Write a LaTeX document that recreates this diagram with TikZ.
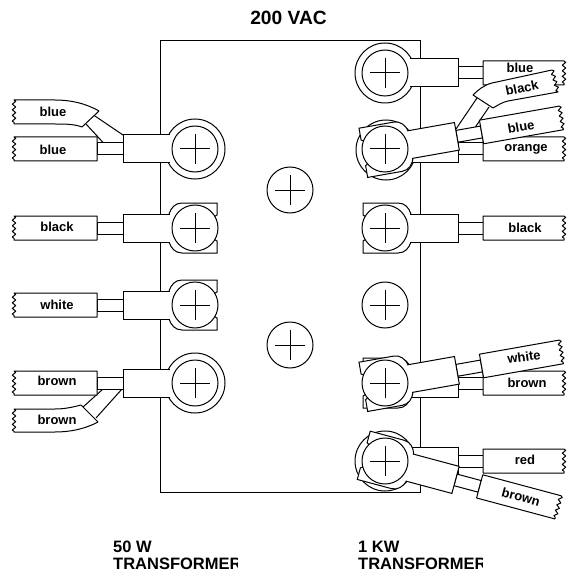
\documentclass[tikz,border=0pt]{standalone}
\usepackage{fontspec}
\setmainfont{Liberation Sans}
\usetikzlibrary{decorations.pathmorphing}
\tikzset{
 pale/.style={fill=white,draw=black,line width=1pt,line join=miter},
 plain/.style={draw=black,line width=1pt},
 wavy/.style={line join=round,decoration={zigzag,segment length=5.6pt,amplitude=1.7pt}},
 lab/.style={font=\bfseries\fontsize{13}{14}\selectfont,inner sep=0pt},
 ttl/.style={font=\bfseries\fontsize{16.5}{16.7}\selectfont,inner sep=0pt,align=left},
 head/.style={font=\bfseries\fontsize{19.2}{20}\selectfont,inner sep=0pt},
}
% generic pieces, local origin = screw centre
\newcommand{\screw}[2]{\begin{scope}[shift={(#1,#2)}]
 \draw[pale] (0,0) circle (23);
 \draw[plain] (-15,0) -- (15,0) (0,-15) -- (0,15);
\end{scope}}
\newcommand{\outerring}[2]{\draw[pale] (#1,#2) circle (30);}
\newcommand{\rightlug}[3]{\begin{scope}[shift={(#1,#2)},rotate=#3]
 \fill[white] (25,-14) rectangle (73,14);
 \draw[plain] (25,-14) -- (73,-14) -- (73,14) -- (25,14);
\end{scope}}
\newcommand{\leftlug}[2]{\begin{scope}[shift={(#1,#2)}]
 \fill[white] (-25,-14) rectangle (-72,14);
 \draw[plain] (-25,-14) -- (-72,-14) -- (-72,14) -- (-25,14);
\end{scope}}
\newcommand{\rightfork}[3]{\begin{scope}[shift={(#1,#2)},rotate=#3]
 \draw[pale] (26,-14) .. controls (24,-20) and (20,-25) .. (13,-25) -- (-22,-25) -- (-22,-13) -- (0,0) -- (-22,13) -- (-22,25) -- (13,25) .. controls (20,25) and (24,20) .. (26,14);
\end{scope}}
\newcommand{\leftfork}[2]{\begin{scope}[shift={(#1,#2)}]
 \draw[pale] (-26,-14) .. controls (-24,-20) and (-20,-25) .. (-13,-25) -- (22,-25) -- (22,-13) -- (0,0) -- (22,13) -- (22,25) -- (-13,25) .. controls (-20,25) and (-24,20) .. (-26,14);
\end{scope}}
\newcommand{\rightwire}[3]{\begin{scope}[shift={(#1,#2)},rotate=#3]
 \draw[pale] (73,-6) rectangle (98,6);
 \draw[pale,wavy] (98,-12) -- (179,-12) decorate {-- (179,12)} -- (98,12) -- cycle;
\end{scope}}
\newcommand{\leftwire}[2]{\begin{scope}[shift={(#1,#2)}]
 \draw[pale] (-72,-6) rectangle (-98,6);
 \draw[pale,wavy] (-98,-12) -- (-181,-12) decorate {-- (-181,12)} -- (-98,12) -- cycle;
\end{scope}}
\begin{document}
\begin{tikzpicture}[x=1pt,y=-1pt]
\useasboundingbox (0,0) rectangle (572,580);
\fill[white] (0,0) rectangle (572,580);
\draw[plain] (160,41) rectangle (420,492);
\node[head] (title) at (288.5,18) {200 VAC};
\screw{290}{190}
\screw{290}{345}
\screw{385}{305}
% left side
\fill[white] (104,143.5) -- (86,124) -- (92,114) -- (123,135) -- (123,143.5) -- cycle;
\draw[plain] (104,143.5) -- (86,124) (92,114) -- (123,135);
\draw[pale,wavy] (99,111) .. controls (85,103) and (70,100) .. (55,100) -- (14,100) decorate {-- (14,124)} -- (55,124) .. controls (65,124) and (74,124) .. (82,127) -- cycle;
\node[lab] (l1) at (53,112) {blue};
\outerring{195}{149}
\leftwire{195}{149}
\leftlug{195}{149}
\node[lab] (l2) at (53,150) {blue};
\screw{195}{149}
\leftfork{195}{228}
\leftwire{195}{228}
\leftlug{195}{228}
\node[lab] (l3) at (57,227) {black};
\screw{195}{228}
\leftfork{195}{305}
\leftwire{195}{305}
\leftlug{195}{305}
\node[lab] (l4) at (57,305) {white};
\screw{195}{305}
\fill[white] (103,389) -- (83,407) -- (96,418) -- (122,389) -- cycle;
\draw[plain] (103,389) -- (83,407) (96,418) -- (122,389);
\outerring{195}{383}
\leftwire{195}{383}
\leftlug{195}{383}
\node[lab] (l5) at (57,381) {brown};
\screw{195}{383}
\draw[pale,wavy] (98,422) -- (81,405) .. controls (70,408) and (62,409) .. (55,409) -- (14,409) decorate {-- (14,432)} -- (55,432) .. controls (70,432) and (85,429) .. (98,422);
\node[lab] (l6) at (57,420) {brown};
% right 1
\outerring{385}{73}
\rightwire{385}{73}{0}
\rightlug{385}{73}{0}
\node[lab] (r1) at (520,68) {blue};
\screw{385}{73}
% right 2
\outerring{386}{150}
\rightwire{385}{149}{0}
\rightlug{385}{149}{0}
\node[lab] (r2) at (526,149) {orange};
\fill[white] (456,129) -- (477,98) -- (489,107) -- (474,129) -- cycle;
\draw[plain] (456,129) -- (477,98) (489,107) -- (474,129);
\draw[pale,wavy] (473,95) .. controls (478,90) and (484,85) .. (492,83) -- (552,70) decorate {-- (558,92)} -- (508,101) .. controls (503,102) and (498,105) .. (493,108) -- cycle;
\node[lab,rotate=12] (r3) at (522,88) {black};
\rightfork{385}{149}{10}
\rightwire{385}{149}{10}
\rightlug{385}{149}{10}
\node[lab,rotate=10] (r4) at (521,127) {blue};
\screw{385}{149}
% right 3
\rightfork{385}{228}{0}
\rightwire{385}{228}{0}
\rightlug{385}{228}{0}
\node[lab] (r5) at (525,228) {black};
\screw{385}{228}
% right 4
\rightfork{385}{383}{0}
\rightwire{385}{383}{0}
\rightlug{385}{383}{0}
\node[lab] (r6) at (527,383) {brown};
\rightfork{385}{383}{10}
\rightwire{385}{383}{10}
\rightlug{385}{383}{10}
\node[lab,rotate=8] (r7) at (524,357) {white};
\screw{385}{383}
% right 5
\outerring{385}{461}
\rightwire{385}{461}{0}
\rightlug{385}{461}{0}
\node[lab] (r8) at (525,460) {red};
\rightfork{385}{461}{-15}
\rightwire{385}{461}{-15}
\rightlug{385}{461}{-15}
\node[lab,rotate=-15] (r9) at (521,497) {brown};
\screw{385}{461}
\begin{scope}
\clip (100,530) rectangle (237.5,580);
\node[ttl,anchor=north west] (b1) at (113,541) {50 W\\TRANSFORMER};
\end{scope}
\begin{scope}
\clip (340,530) rectangle (482.5,580);
\node[ttl,anchor=north west] (b2) at (358,541) {1 KW\\TRANSFORMER};
\end{scope}
\end{tikzpicture}
\end{document}
